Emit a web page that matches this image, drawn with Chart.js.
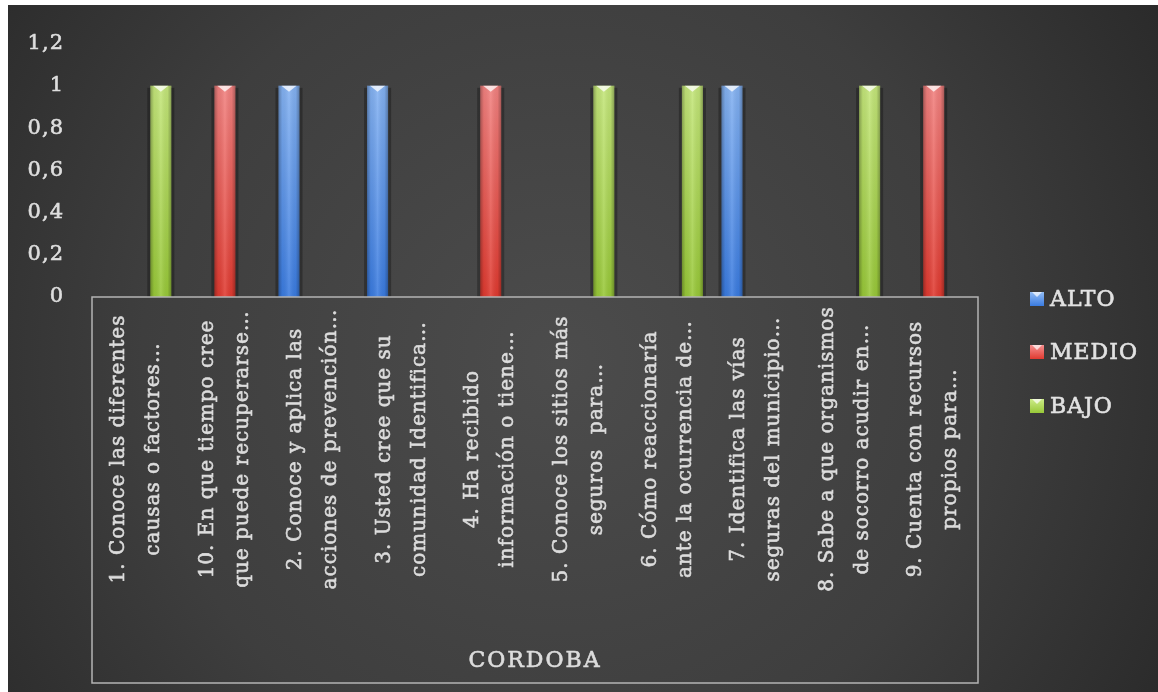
<!DOCTYPE html>
<html><head><meta charset="utf-8">
<script src="https://cdn.jsdelivr.net/npm/chart.js@4/dist/chart.umd.min.js"></script>
<style>html,body{margin:0;padding:0;background:#fff}#wrap{width:1158px;height:692px;position:relative}</style>
</head><body><div id="wrap"><canvas id="c" width="1158" height="692"></canvas></div>
<script>
// ---- data ----
const categories = [
  ['1. Conoce las diferentes', 'causas o factores…'],
  ['10. En que tiempo cree', 'que puede recuperarse…'],
  ['2. Conoce y aplica las', 'acciones de prevención…'],
  ['3. Usted cree que su', 'comunidad Identifica…'],
  ['4. Ha recibido', 'información o tiene…'],
  ['5. Conoce los sitios más', 'seguros  para…'],
  ['6. Cómo reaccionaría', 'ante la ocurrencia de…'],
  ['7. Identifica las vías', 'seguras del municipio…'],
  ['8. Sabe a que organismos', 'de socorro acudir en…'],
  ['9. Cuenta con recursos', 'propios para…']
];
const groupLabel = 'CORDOBA';
const seriesNames = ['ALTO', 'MEDIO', 'BAJO'];
const alto  = [null, null, 1, 1, null, null, null, 1, null, null];
const medio = [null, 1, null, null, 1, null, null, null, null, 1];
const bajo  = [1, null, null, null, null, 1, 1, null, 1, null];
const yTicks = [0, 0.2, 0.4, 0.6, 0.8, 1, 1.2];

// ---- styles ----
const FONT = "'DejaVu Serif', serif";
const seriesColors = [
  {top: '#93bdf5', bottom: '#3a7be0'},
  {top: '#f59090', bottom: '#e03a30'},
  {top: '#cdec88', bottom: '#98c838'}
];

function vgrad(chart, c) {
  const a = chart.chartArea;
  if (!a) return c.bottom;
  const g = chart.ctx.createLinearGradient(0, a.top, 0, a.bottom);
  g.addColorStop(0, c.top);
  g.addColorStop(1, c.bottom);
  return g;
}

function boldText(ctx, txt, x, y, color) {
  ctx.fillStyle = color;
  ctx.strokeStyle = color;
  ctx.lineWidth = 0.6;
  ctx.fillText(txt, x, y);
  ctx.strokeText(txt, x, y);
}

const bgPlugin = {
  id: 'bg',
  beforeDraw(chart) {
    const ctx = chart.ctx, W = chart.width, H = chart.height;
    ctx.save();
    ctx.fillStyle = '#ffffff';
    ctx.fillRect(0, 0, W, H);
    const g = ctx.createRadialGradient(560, 360, 0, 560, 360, 760);
    g.addColorStop(0, '#4c4c4c');
    g.addColorStop(0.55, '#3e3e3e');
    g.addColorStop(1, '#262626');
    ctx.fillStyle = g;
    ctx.fillRect(8, 5, W - 8, H - 5);
    ctx.restore();
    ctx.letterSpacing = '1px';
  }
};

const barFx = {
  id: 'barFx',
  afterDatasetsDraw(chart) {
    const ctx = chart.ctx;
    chart.data.datasets.forEach((ds, di) => {
      const meta = chart.getDatasetMeta(di);
      meta.data.forEach((el, i) => {
        if (ds.data[i] == null) return;
        const w = el.width, x0 = el.x - w / 2, top = el.y, bot = el.base;
        ctx.save();
        ctx.fillStyle = 'rgba(0,0,0,0.28)';
        ctx.fillRect(x0 - 3, top + 2, 3, bot - top - 2);
        ctx.fillRect(x0 + w, top + 2, 3, bot - top - 2);
        const g = ctx.createLinearGradient(x0, 0, x0 + w, 0);
        g.addColorStop(0, 'rgba(0,0,0,0.30)');
        g.addColorStop(0.18, 'rgba(0,0,0,0.05)');
        g.addColorStop(0.5, 'rgba(255,255,255,0.12)');
        g.addColorStop(0.82, 'rgba(0,0,0,0.05)');
        g.addColorStop(1, 'rgba(0,0,0,0.30)');
        ctx.fillStyle = g;
        ctx.fillRect(x0, top, w, bot - top);
        ctx.fillStyle = 'rgba(255,255,255,0.75)';
        ctx.beginPath();
        ctx.moveTo(x0 + 3, top);
        ctx.lineTo(x0 + w - 3, top);
        ctx.lineTo(el.x, top + 6);
        ctx.closePath();
        ctx.fill();
        ctx.restore();
      });
    });
  }
};

const axisBox = {
  id: 'axisBox',
  afterDraw(chart) {
    const ctx = chart.ctx, a = chart.chartArea, xs = chart.scales.x;
    ctx.save();
    ctx.strokeStyle = '#b4b4b4';
    ctx.lineWidth = 1.5;
    ctx.strokeRect(a.left, a.bottom, a.right - a.left, 386);
    ctx.font = '20px ' + FONT;
    ctx.letterSpacing = '1px';
    ctx.textAlign = 'center';
    ctx.textBaseline = 'middle';
    categories.forEach((lines, i) => {
      const x = xs.getPixelForValue(i);
      ctx.save();
      ctx.translate(x, 449);
      ctx.rotate(-Math.PI / 2);
      lines.forEach((ln, j) => {
        boldText(ctx, ln, 0, (j - (lines.length - 1) / 2) * 35, '#dcdcdc');
      });
      ctx.restore();
    });
    ctx.font = '22px ' + FONT;
    ctx.letterSpacing = '2px';
    boldText(ctx, groupLabel, (a.left + a.right) / 2, 661, '#dcdcdc');
    const ys = [299, 352, 406];
    chart.data.datasets.forEach((ds, di) => {
      const c = seriesColors[di];
      const y = ys[di];
      const g = ctx.createLinearGradient(0, y - 7, 0, y + 7);
      g.addColorStop(0, c.top); g.addColorStop(1, c.bottom);
      ctx.fillStyle = g;
      ctx.fillRect(1030, y - 7, 14, 14);
      ctx.fillStyle = 'rgba(255,255,255,0.7)';
      ctx.beginPath();
      ctx.moveTo(1032, y - 7); ctx.lineTo(1042, y - 7); ctx.lineTo(1037, y - 2); ctx.closePath(); ctx.fill();
      ctx.font = '22px ' + FONT;
      ctx.letterSpacing = '1px';
      ctx.textAlign = 'left';
      boldText(ctx, ds.label, 1050, y + 1, '#e2e2e2');
    });
    ctx.restore();
  }
};

const makeDs = (label, data, idx) => ({
  label, data,
  backgroundColor: (ctx) => vgrad(ctx.chart, seriesColors[idx]),
  borderWidth: 0,
  categoryPercentage: 0.83,
  barPercentage: 0.86
});

new Chart(document.getElementById('c'), {
  type: 'bar',
  data: {
    labels: categories,
    datasets: [
      makeDs(seriesNames[0], alto, 0),
      makeDs(seriesNames[1], medio, 1),
      makeDs(seriesNames[2], bajo, 2)
    ]
  },
  options: {
    responsive: false,
    animation: false,
    layout: {padding: {top: 43.6, left: 0, right: 180, bottom: 9}},
    plugins: {legend: {display: false}, tooltip: {enabled: false}},
    scales: {
      x: {
        grid: {display: false},
        border: {display: false},
        ticks: {display: false},
        afterFit(s) { s.height = 692 - 9 - 297; }
      },
      y: {
        min: 0, max: 1.2,
        afterBuildTicks(s) { s.ticks = yTicks.map(v => ({value: v})); },
        afterFit(s) { s.width = 92; },
        grid: {display: false, drawTicks: false},
        border: {display: false},
        ticks: {
          padding: 28,
          color: '#dedede',
          textStrokeColor: '#dedede',
          textStrokeWidth: 0.6,
          font: {family: FONT, size: 21},
          callback: (v) => String(Math.round(v * 10) / 10).replace('.', ',')
        }
      }
    }
  },
  plugins: [bgPlugin, barFx, axisBox]
});
</script>
</body></html>
